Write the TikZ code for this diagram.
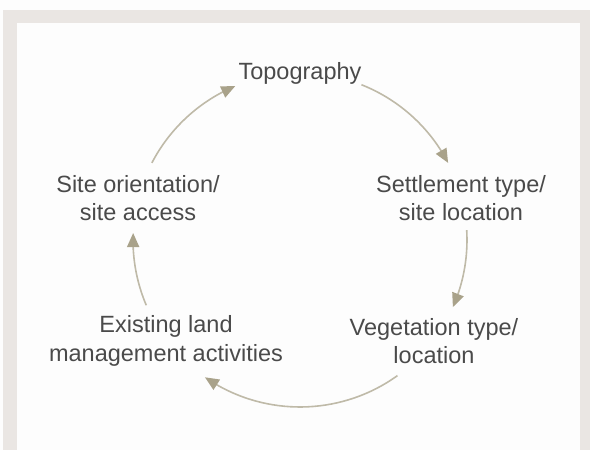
\documentclass[tikz,border=0pt]{standalone}
\usepackage{fontspec}
\setmainfont{Liberation Sans}
\usetikzlibrary{arrows.meta,bending}
\definecolor{framegray}{HTML}{EAE6E3}
\definecolor{inner}{HTML}{FDFDFD}
\definecolor{txt}{HTML}{4A4A4A}
\definecolor{arcline}{HTML}{BFBAA8}
\definecolor{arctip}{HTML}{A9A28A}
\tikzset{
  lbl/.style={inner sep=0pt, align=center, text=txt, font=\fontsize{23.5}{28.5}\selectfont},
  conn/.style={draw=arcline, line width=1.6pt, -{Triangle[length=14pt,width=12pt,color=arctip,flex]}}
}
\begin{document}
\begin{tikzpicture}[x=1pt,y=1pt]
\useasboundingbox (-300,-210) rectangle (290,240);
\fill[inner] (-300,-210) rectangle (290,240);
\fill[framegray] (-297,-210) rectangle (290,230);
\fill[inner] (-283,-210) rectangle (280,217);

\node[lbl] (topo) at (0,167) {Topography};
\node[lbl] (settle) at (161,42) {Settlement type/\\site location};
\node[lbl] (veg) at (134,-101) {Vegetation type/\\location};
\node[lbl] (exist) at (-134,-101) {Existing land\\management activities};
\node[lbl] (site) at (-162,42) {Site orientation/\\site access};

\coordinate (a1) at (68.4:167pt);
\coordinate (a2) at (3.4:167pt);
\coordinate (a3) at (-54.3:167pt);
\coordinate (a4) at (203:167pt);
\coordinate (a5) at (152.5:167pt);

\draw[conn] (a1) arc[start angle=68.4, end angle=27.5, radius=167pt];
\draw[conn] (a2) arc[start angle=3.4, end angle=-23.7, radius=167pt];
\draw[conn] (a3) arc[start angle=-54.3, end angle=-124.7, radius=167pt];
\draw[conn] (a4) arc[start angle=203, end angle=177.6, radius=167pt];
\draw[conn] (a5) arc[start angle=152.5, end angle=112.8, radius=167pt];
\end{tikzpicture}
\end{document}
